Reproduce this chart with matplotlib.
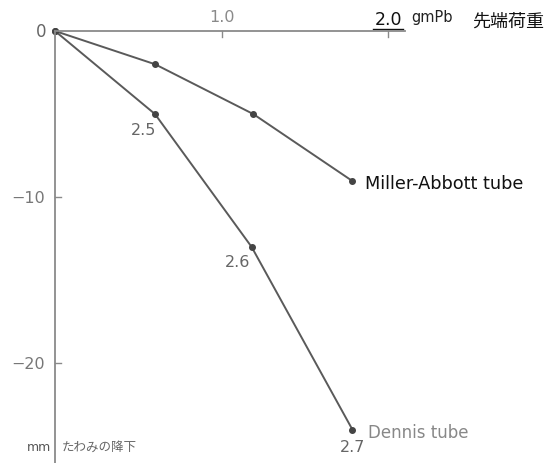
import matplotlib
matplotlib.use("Agg")
import matplotlib.pyplot as plt

# Tip load (gm Pb) and sag (mm) for two intestinal tubes
load_miller = [0.0, 0.6, 1.19, 1.78]
sag_miller = [0.0, -2.0, -5.0, -9.0]

load_dennis = [0.0, 0.6, 1.18, 1.785]
sag_dennis = [0.0, -5.0, -13.0, -24.0]
dennis_labels = ["", "2.5", "2.6", "2.7"]

x_ticks = [1.0, 2.0]
x_tick_labels = ["1.0", "2.0"]
y_ticks = [-10, -20]
y_tick_labels = ["\u221210", "\u221220"]

LAT = ["DejaVu Sans"]
CJK = ["Noto Sans CJK JP", "DejaVu Sans"]
AXIS_GRAY = "#8a8a8a"
LINE_GRAY = "#5a5a5a"

fig = plt.figure(figsize=(5.57, 4.64), dpi=100)
ax = fig.add_axes([55 / 557, 0.0, 350 / 557, 432 / 464])
ax.set_xlim(0, 2.1)
ax.set_ylim(-26.0, 0)

for side in ("right", "bottom"):
    ax.spines[side].set_visible(False)
for side in ("top", "left"):
    ax.spines[side].set_color(AXIS_GRAY)
    ax.spines[side].set_linewidth(1.3)

ax.set_xticks([])
ax.set_yticks([])

# Small tick marks drawn across the axes
for xt in x_ticks:
    ax.plot([xt, xt], [0, -0.35], color=AXIS_GRAY, lw=1.0, clip_on=False)
for yt in y_ticks:
    ax.plot([0, 0.035], [yt, yt], color=AXIS_GRAY, lw=1.0, clip_on=False)

# Axis labels
ax.text(-0.05, 0.0, "0", ha="right", va="center", fontsize=12,
        color="#666666", family=LAT)
ax.text(x_ticks[0], 0.4, x_tick_labels[0], ha="center", va="bottom",
        fontsize=11.5, color="#8a8a8a", family=LAT)
ax.text(x_ticks[1], 0.2, x_tick_labels[1], ha="center", va="bottom",
        fontsize=12.5, color="#111111", family=LAT)
ax.plot([1.91, 2.09], [0.1, 0.1], color="#111111", lw=1.0, clip_on=False)
ax.text(2.14, 0.4, "gmPb", ha="left", va="bottom", fontsize=10.5,
        color="#222222", family=LAT)
ax.text(2.50, 0.1, "先端荷重", ha="left", va="bottom", fontsize=13,
        color="#111111", family=CJK)

for yt, lab in zip(y_ticks, y_tick_labels):
    ax.text(-0.06, yt, lab, ha="right", va="center", fontsize=11.5,
            color="#777777", family=LAT)

ax.text(-0.025, -25.0, "mm", ha="right", va="center", fontsize=9,
        color="#555555", family=LAT)
ax.text(0.04, -25.0, "たわみの降下", ha="left", va="center", fontsize=9,
        color="#666666", family=CJK)

# Curves
ax.plot(load_miller, sag_miller, color=LINE_GRAY, lw=1.4, marker="o",
        markersize=4, markerfacecolor="#444444", markeredgecolor="#444444",
        clip_on=False)
ax.plot(load_dennis, sag_dennis, color=LINE_GRAY, lw=1.4, marker="o",
        markersize=4, markerfacecolor="#444444", markeredgecolor="#444444",
        clip_on=False)

ax.text(load_miller[-1] + 0.08, sag_miller[-1] - 0.15, "Miller-Abbott tube",
        ha="left", va="center", fontsize=12.8, color="#111111", family=LAT)
ax.text(load_dennis[-1] + 0.09, sag_dennis[-1] - 0.15, "Dennis tube",
        ha="left", va="center", fontsize=12, color="#888888", family=LAT)

label_pos = {1: (0.53, -5.9), 2: (1.093, -13.86), 3: (1.785, -25.0)}
for i, lab in enumerate(dennis_labels):
    if not lab:
        continue
    lx, ly = label_pos[i]
    ax.text(lx, ly, lab, ha="center", va="center", fontsize=11.5,
            color="#666666", family=LAT)

fig.savefig("out.png", dpi=100)
